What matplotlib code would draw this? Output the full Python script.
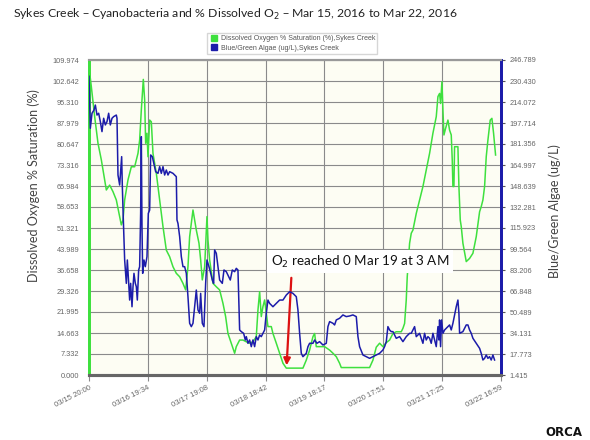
import matplotlib
matplotlib.use("Agg")
import matplotlib.pyplot as plt
import matplotlib.lines as mlines
import pandas as pd

# ---------------- data ----------------
start_time = "2016-03-15 20:00"

do_hours = [0.13, 0.93, 2.27, 3.60, 4.94, 6.27, 6.94, 8.27, 9.61, 10.94, 12.28, 12.94, 13.61, 14.28,
            15.61, 16.95, 18.28, 19.62, 20.28, 20.95, 21.75, 22.29, 22.69, 23.22, 23.62, 24.29, 24.96,
            25.62, 26.96, 28.29, 29.63, 30.96, 32.29, 33.63, 34.96, 36.30, 37.63, 38.70, 39.63, 40.30,
            41.64, 42.30, 42.97, 44.04, 44.71, 45.37, 46.31, 47.24, 47.64, 48.31, 49.64, 50.98, 52.31,
            53.65, 54.71, 55.65, 56.98, 58.32, 58.98, 60.32, 61.65, 62.99, 64.32, 65.66, 66.99, 67.66,
            68.33, 68.99, 69.66, 70.33, 70.99, 71.66, 73.00, 73.66, 75.00, 76.33, 77.67, 79.00, 80.34,
            85.67, 87.01, 88.34, 89.68, 90.35, 91.01, 92.35, 94.35, 96.35, 97.69, 99.02, 100.35, 101.02,
            112.36, 113.70, 115.03, 116.37, 117.70, 119.04, 120.37, 121.71, 123.04, 125.04, 125.71,
            126.38, 127.04, 127.44, 128.38, 129.05, 129.72, 131.05, 132.38, 133.72, 135.05, 136.39,
            137.72, 139.06, 139.73, 140.39, 140.79, 141.33, 141.73, 142.13, 142.80, 143.73, 144.39,
            145.06, 145.46, 145.73, 146.13, 146.39, 147.73, 148.13, 148.67, 149.07, 149.73, 151.07,
            152.40, 153.74, 155.07, 156.41, 157.07, 157.74, 158.41, 159.07, 159.74, 160.67, 161.34,
            162.01, 162.81]
do_values = [106.5, 100.7, 90.2, 80.9, 75.1, 68.1, 64.6, 66.3, 64.0, 61.1, 55.3, 52.4, 54.1, 61.1,
             68.1, 72.7, 72.7, 77.4, 82.0, 92.5, 103.2, 96.0, 80.9, 84.4, 76.2, 89.0, 88.4,
             77.4, 70.4, 61.1, 51.8, 43.6, 41.3, 37.8, 35.5, 34.3, 32.0, 29.7, 37.8, 48.3,
             57.6, 54.1, 50.6, 46.0, 40.2, 33.2, 37.8, 55.3, 47.1, 40.2, 32.0, 30.8, 29.7,
             25.0, 20.4, 14.5, 11.1, 7.6, 9.9, 12.2, 12.2, 11.6, 11.1, 11.6, 13.4, 22.7,
             29.1, 20.4, 23.9, 26.2, 21.5, 16.9, 16.9, 14.5, 11.1, 7.6, 4.1, 2.4, 2.4,
             2.4, 5.2, 8.7, 13.4, 14.5, 9.9, 9.9, 9.9, 8.7, 7.6, 6.4, 4.1, 2.6,
             2.6, 5.2, 9.7, 11.1, 9.9, 11.3, 12.2, 14.5, 15.1, 15.1, 16.3,
             18.0, 26.2, 34.3, 46.0, 49.5, 50.6, 56.4, 61.1, 65.8, 71.6, 77.4,
             84.4, 90.2, 97.2, 98.3, 94.8, 102.4, 92.5, 83.8, 86.1, 89.0, 85.5,
             83.8, 75.1, 65.8, 65.8, 79.7, 79.7, 65.8, 54.1, 51.8, 46.0, 39.6,
             40.7, 42.5, 48.3, 57.0, 58.8, 61.1, 65.8, 76.2, 82.0, 89.0, 89.6,
             84.4, 76.8]

algae_hours = [0.00, 0.53, 1.20, 2.00, 2.54, 3.20, 3.87, 4.54, 5.20, 5.87, 6.54, 7.21, 7.87, 8.54,
               9.21, 9.88, 10.94, 11.21, 11.61, 12.28, 13.08, 13.35, 13.75, 14.28, 14.95, 15.35,
               15.88, 16.28, 16.68, 17.22, 17.62, 18.01, 18.55, 18.95, 19.35, 19.88, 20.28, 20.68,
               20.95, 21.22, 21.49, 22.02, 22.55, 23.22, 23.75, 24.29, 24.69, 25.36, 26.69, 27.62,
               28.29, 28.96, 29.63, 30.29, 30.96, 31.63, 32.29, 33.63, 34.30, 34.96, 35.23, 35.63,
               36.30, 36.97, 37.63, 38.30, 38.97, 39.63, 40.30, 40.97, 41.64, 42.30, 42.97, 43.64,
               44.30, 44.71, 45.37, 46.04, 46.71, 47.24, 48.04, 48.58, 49.38, 49.91, 50.31, 50.98,
               51.65, 52.31, 53.38, 54.05, 54.98, 55.92, 56.58, 57.38, 58.32, 58.98, 59.65, 60.32,
               60.98, 61.92, 62.59, 62.99, 63.65, 64.32, 64.99, 65.66, 66.32, 66.99, 67.66, 68.33,
               68.99, 69.66, 70.33, 70.99, 71.66, 72.33, 73.66, 75.00, 76.33, 77.67, 79.00, 80.34,
               81.67, 83.01, 83.67, 84.34, 85.01, 85.67, 87.01, 87.68, 88.34, 89.68, 90.35, 91.28,
               92.35, 93.68, 95.02, 95.68, 96.35, 97.69, 98.35, 99.02, 100.35, 101.69, 103.02,
               104.36, 105.69, 107.03, 107.70, 108.36, 109.70, 111.03, 112.36, 113.70, 115.03,
               116.37, 117.70, 118.37, 119.04, 119.70, 120.37, 121.04, 121.71, 123.04, 124.38,
               125.71, 127.04, 128.38, 129.05, 130.38, 131.05, 132.38, 133.05, 133.72, 134.38,
               135.05, 135.72, 136.39, 137.05, 137.72, 138.39, 139.06, 139.73, 140.12, 140.39,
               140.79, 141.19, 141.73, 142.40, 143.06, 144.39, 145.06, 145.73, 146.39, 147.06,
               147.73, 148.13, 148.40, 149.73, 151.07, 151.74, 152.40, 153.07, 153.74, 155.07,
               156.41, 157.07, 157.74, 158.41, 159.07, 159.74, 160.40, 161.07, 161.74, 162.41]
algae_values = [234.1, 193.6, 205.3, 207.8, 211.7, 203.9, 205.3, 198.8, 191.0, 201.4, 196.2, 198.8, 205.3, 196.2,
                201.4, 202.7, 203.9, 201.4, 157.2, 149.4, 171.5, 148.1, 122.2, 91.0, 72.8, 91.0,
                72.8, 59.8, 72.8, 54.6, 70.2, 80.6, 72.8, 70.2, 59.8, 83.2, 85.8, 127.3,
                187.1, 117.0, 80.6, 91.0, 85.8, 93.6, 127.3, 129.9, 172.8, 171.5, 159.8, 158.5,
                163.7, 158.5, 163.7, 157.2, 161.1, 157.2, 159.8, 158.5, 157.2, 155.9, 122.2, 119.5,
                109.2, 93.6, 85.8, 85.8, 80.6, 62.4, 41.7, 39.1, 41.7, 54.6, 67.6, 52.1,
                49.5, 65.0, 41.7, 39.1, 72.8, 91.0, 85.8, 81.9, 75.4, 72.8, 98.8, 96.2,
                85.8, 75.4, 72.8, 83.2, 81.9, 78.0, 75.4, 83.2, 81.9, 84.5, 83.2, 36.5,
                35.2, 33.9, 28.7, 31.3, 26.1, 28.7, 23.5, 28.7, 23.5, 31.3, 28.7, 32.6,
                31.3, 33.9, 36.5, 49.5, 59.8, 57.2, 54.6, 57.2, 59.8, 59.8, 63.7, 66.3,
                65.0, 62.4, 52.1, 33.9, 18.3, 15.7, 18.3, 23.5, 26.1, 26.1, 28.7, 26.1,
                27.4, 24.8, 26.1, 39.1, 43.0, 41.7, 40.4, 44.3, 45.6, 48.2, 46.9,
                47.4, 48.2, 46.9, 31.3, 23.5, 17.0, 15.7, 14.4, 15.7, 17.0,
                18.3, 20.9, 23.5, 27.4, 39.1, 36.5, 35.2, 35.2, 30.0, 31.3,
                27.4, 31.3, 33.9, 33.9, 39.1, 31.3, 33.9, 30.0, 26.1, 33.9,
                28.7, 31.3, 30.0, 26.1, 33.9, 28.7, 23.5, 39.1, 28.7, 44.3,
                23.5, 44.3, 33.9, 36.5, 37.8, 40.4, 36.5, 41.7, 48.2, 54.6,
                59.8, 49.5, 33.9, 35.2, 40.4, 40.4, 36.5, 33.9, 30.0, 26.1,
                22.2, 18.3, 13.1, 14.4, 17.0, 14.4, 15.7, 13.1, 17.0, 13.1]

x_tick_labels = ["03/15 20:00", "03/16 19:34", "03/17 19:08", "03/18 18:42",
                 "03/19 18:17", "03/20 17:51", "03/21 17:25", "03/22 16:59"]
left_tick_labels = ["0.000", "7.332", "14.663", "21.995", "29.326", "36.658", "43.989", "51.321",
                    "58.653", "65.984", "73.316", "80.647", "87.979", "95.310", "102.642", "109.974"]
right_tick_labels = ["1.415", "17.773", "34.131", "50.489", "66.848", "83.206", "99.564", "115.923",
                     "132.281", "148.639", "164.997", "181.356", "197.714", "214.072", "230.430", "246.789"]

title = "Sykes Creek \u2013 Cyanobacteria and % Dissolved O$_2$ \u2013 Mar 15, 2016 to Mar 22, 2016"
do_label = "Dissolved Oxygen % Saturation (%),Sykes Creek"
algae_label = "Blue/Green Algae (ug/L),Sykes Creek"
annot_text = "O$_2$ reached 0 Mar 19 at 3 AM"
annot_time = "2016-03-19 03:05"
annot_value = 2.4

# ---------------- styling ----------------
GREEN = "#3ee03e"
BLUE = "#1c1caa"
GRID = "#8a8a8a"
TICKC = "#666666"
TFONT = "Liberation Sans"
LFONT = "Lato"

t0 = pd.Timestamp(start_time)
do_t = t0 + pd.to_timedelta(do_hours, unit="h")
al_t = t0 + pd.to_timedelta(algae_hours, unit="h")
xt = pd.to_datetime(["2016/" + s for s in x_tick_labels], format="%Y/%m/%d %H:%M")

fig = plt.figure(figsize=(5.9, 4.4), dpi=100)
fig.patch.set_facecolor("white")
ax = fig.add_axes([89 / 590, 65 / 440, 412 / 590, 315 / 440])
ax.set_facecolor("#fdfdf3")
ax2 = ax.twinx()

ax.plot(do_t, do_values, color=GREEN, lw=1.1, zorder=3)
ax2.plot(al_t, algae_values, color=BLUE, lw=1.1, zorder=3)

lt = [float(v) for v in left_tick_labels]
rt = [float(v) for v in right_tick_labels]
ax.set_ylim(lt[0], lt[-1])
ax2.set_ylim(rt[0], rt[-1])
ax.set_xlim(xt[0], xt[-1])

ax.set_yticks(lt)
ax.set_yticklabels(left_tick_labels, fontsize=5.3, color=TICKC, family=TFONT)
ax2.set_yticks(rt)
ax2.set_yticklabels(right_tick_labels, fontsize=5.3, color=TICKC, family=TFONT)
ax.set_xticks(xt)
ax.set_xticklabels(x_tick_labels, fontsize=5.5, color=TICKC, family=TFONT,
                   rotation=27, ha="right", rotation_mode="anchor")

ax.tick_params(axis="y", length=0, pad=7)
ax.tick_params(axis="x", length=4, color=GRID, pad=3)
ax2.tick_params(axis="y", length=3, color="#555555", pad=3)

ax.grid(True, color=GRID, lw=0.8, zorder=1)
ax.set_axisbelow(True)

for a in (ax, ax2):
    a.spines["left"].set_color(GREEN)
    a.spines["left"].set_linewidth(2)
    a.spines["right"].set_color(BLUE)
    a.spines["right"].set_linewidth(2)
    a.spines["bottom"].set_color("#666666")
    a.spines["bottom"].set_linewidth(2.2)
    a.spines["top"].set_color("#999999")
    a.spines["top"].set_linewidth(1.5)

ax.set_ylabel("Dissolved Oxygen % Saturation (%)", fontsize=9, family=LFONT, color="#444444")
ax.yaxis.set_label_coords(-0.12, 0.60)
ax2.set_ylabel("Blue/Green Algae (ug/L)", fontsize=9, family=LFONT, color="#444444")
ax2.yaxis.set_label_coords(1.115, 0.52)

fig.text(13 / 590, 1 - 14 / 440, title, fontsize=8.8, family=LFONT, color="#222222",
         va="center", ha="left")

# annotation
ax.annotate("", xy=(pd.Timestamp(annot_time), annot_value),
            xytext=(pd.Timestamp("2016-03-19 05:05"), 34.9),
            arrowprops=dict(arrowstyle="-|>", color="#dd1111", lw=1.6, mutation_scale=10),
            zorder=6)
ax.text(pd.Timestamp("2016-03-20 08:35"), 39.5, annot_text, fontsize=9.7, family=LFONT,
        ha="center", va="center", color="#111111", zorder=5,
        bbox=dict(facecolor="white", edgecolor="none", pad=2.5))

# legend
h1 = mlines.Line2D([], [], color=GREEN, marker="s", linestyle="none", markersize=5)
h2 = mlines.Line2D([], [], color=BLUE, marker="s", linestyle="none", markersize=5)
leg = fig.legend([h1, h2], [do_label, algae_label], loc="upper left",
                 bbox_to_anchor=(207 / 590, 1 - 33 / 440), fontsize=5, frameon=True,
                 handletextpad=0.4, handlelength=1.2, borderpad=0.35, labelspacing=0.35,
                 fancybox=False, edgecolor="#cccccc", borderaxespad=0)
for t in leg.get_texts():
    t.set_color("#555555")
    t.set_family(TFONT)

fig.text(545 / 590, 1 - 426 / 440, "ORCA", fontsize=8.5, weight="bold", family="DejaVu Sans",
         color="#111111", va="top", ha="left")

fig.savefig("out.png", dpi=100)
